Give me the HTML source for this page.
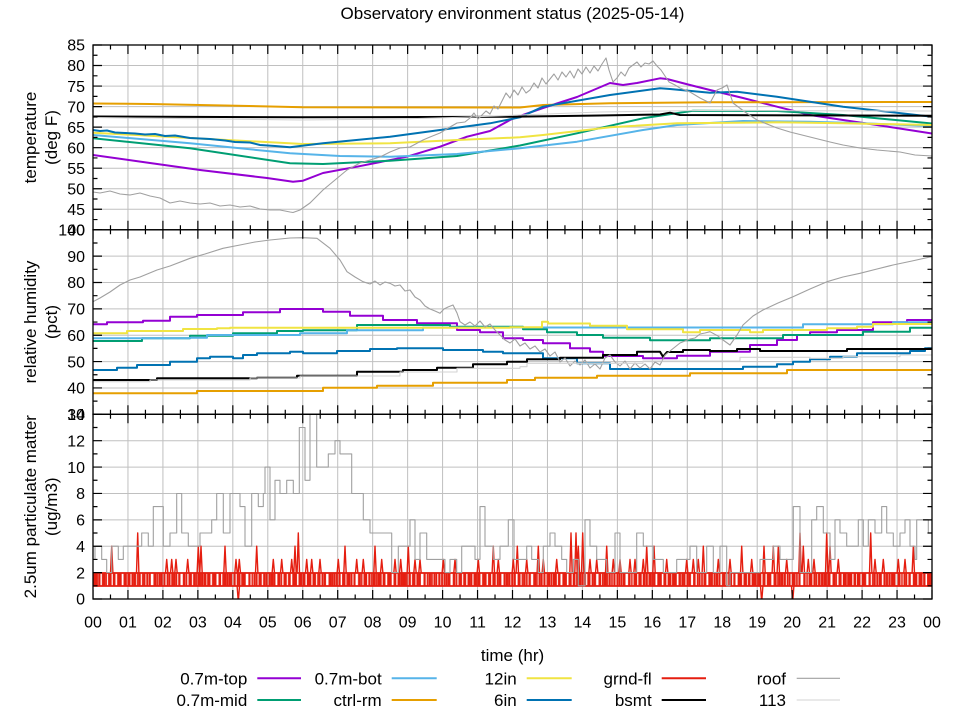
<!DOCTYPE html>
<html><head><meta charset="utf-8"><style>
html,body{margin:0;padding:0;background:#fff;}
svg{display:block;}
text{font-family:"Liberation Sans",sans-serif;fill:#000;}
</style></head><body>
<svg width="960" height="720" viewBox="0 0 960 720" xmlns="http://www.w3.org/2000/svg">
<defs>
<clipPath id="c1"><rect x="93" y="45" width="839" height="184.8"/></clipPath>
<clipPath id="c2"><rect x="93" y="229.8" width="839" height="184.5"/></clipPath>
<clipPath id="c3"><rect x="93" y="414.3" width="839" height="184.7"/></clipPath>
<pattern id="pA" width="5" height="20" patternUnits="userSpaceOnUse" x="93" y="572"><rect x="0.5" y="0" width="2" height="20" fill="#e51e10"/></pattern>
<pattern id="pB" width="7.3" height="20" patternUnits="userSpaceOnUse" x="93" y="572"><rect x="2.2" y="0" width="1.8" height="20" fill="#e51e10"/><rect x="5.2" y="0" width="1.5" height="20" fill="#e51e10"/></pattern>
<pattern id="pC" width="11.7" height="20" patternUnits="userSpaceOnUse" x="93" y="572"><rect x="3.4" y="0" width="1.6" height="20" fill="#e51e10"/><rect x="8.9" y="0" width="1.6" height="20" fill="#e51e10"/></pattern>
</defs>
<rect width="960" height="720" fill="#fff"/>

<text x="512.5" y="19" font-size="17" text-anchor="middle">Observatory environment status (2025-05-14)</text>

<g stroke="#c0c0c0" stroke-width="1" fill="none">
<path d="M127.96,45V599M162.92,45V599M197.88,45V599M232.83,45V599M267.79,45V599M302.75,45V599M337.71,45V599M372.67,45V599M407.63,45V599M442.58,45V599M477.54,45V599M512.5,45V599M547.46,45V599M582.42,45V599M617.38,45V599M652.33,45V599M687.29,45V599M722.25,45V599M757.21,45V599M792.17,45V599M827.13,45V599M862.08,45V599M897.04,45V599"/>
<path d="M93,209.27H932M93,188.73H932M93,168.2H932M93,147.67H932M93,127.13H932M93,106.6H932M93,86.07H932M93,65.53H932"/>
<path d="M93,256.16H932M93,282.51H932M93,308.87H932M93,335.23H932M93,361.59H932M93,387.94H932"/>
<path d="M93,572.61H932M93,546.23H932M93,519.84H932M93,493.46H932M93,467.07H932M93,440.69H932"/>
</g>

<g clip-path="url(#c1)" fill="none" stroke-linejoin="round">
<polyline stroke="#9400d3" stroke-width="2" points="93,155 150,163 200,170 267,178 293,181.7 303,180.7 323,173 357,166.7 407,156.7 440,146.7 467,136.7 490,131 510,120 520,116 543,108 577,97 610,83 623,85 637,83 660,78.3 667,79 690,85 710,90 743,98 777,106.7 810,115 843,120 877,125 932,133.5"/>
<polyline stroke="#009e73" stroke-width="2" points="93,138.3 190,148.3 290,163.3 323,164 390,160.7 457,156 520,145.5 577,133.3 643,118.3 693,110.7 777,111 843,115 932,123.5"/>
<polyline stroke="#56b4e9" stroke-width="2" points="93,135 190,143.3 290,153.3 340,156 390,156.7 457,154 520,148.3 577,141.7 643,130 677,125 743,121 810,121.7 863,123.3 932,126"/>
<polyline stroke="#e69f00" stroke-width="2" points="93,103.5 150,104 237,105.7 303,107.3 520,107.5 543,105 610,103.3 710,102.3 932,102"/>
<polyline stroke="#f0e442" stroke-width="2" points="93,132.7 190,138 303,144 390,143.3 457,140 520,137.3 543,135 610,127.3 677,123.3 777,122.3 843,123.3 932,125"/>
<polyline stroke="#0072b2" stroke-width="2" points="93,130 100,131 107,130.5 115,132.5 125,133 135,133.5 145,134.5 155,134 165,136 175,135.5 190,138 200,138.5 210,139 225,140.5 235,142 250,142.5 260,145 275,146 290,147.3 300,146 323,143.3 390,136.7 440,130 490,123.3 520,117.3 543,106.7 610,95 660,88.3 670,89 710,92.7 737,91.7 777,96.7 843,106.7 932,116.7"/>
<polyline stroke="#000" stroke-width="2" points="93,116.5 300,117.3 510,116.7 600,115.5 660,114.5 670,112.7 680,115 932,115.8"/>
<polyline stroke="#a0a0a0" stroke-width="1.1" points="93,192 100,193 110,191 120,194 130,195 140,193 150,196 160,198 170,203 180,201 190,203 200,204 210,203 220,206 230,205 240,207 250,206 260,209 270,210 280,210 290,212 293,212.5 300,210 310,203 323,190 335,180 347,170 360,163 370,160 380,157 390,152 400,148 410,147 423,140 430,137 440,133 450,127 457,123 465,122 470,118 474,113 478,119 482,115 486,111 490,114 494,106 498,109 502,101 506,93 510,98 514,90 518,95 522,87 526,93 530,90 534,83 538,88 542,78 546,84 550,79 554,74 558,80 562,72 566,77 570,71 574,78 578,69 582,74 586,67 590,73 594,66 598,71 602,64 606,58 609,70 613,82 617,78 621,72 625,76 629,68 633,65 637,62 641,67 645,63 649,64 653,61 657,66 661,70 665,76 669,82 675,85 680,88 690,92 700,98 710,103 717,90 722,88 727,85 733,103 745,112 757,120 777,128 790,132 810,137 830,142 843,145 860,148 877,150 900,152 915,155 932,156"/>
<polyline stroke="#d3d3d3" stroke-width="1.1" points="93,117.5 200,118.8 300,120 400,119 470,117 520,115 600,112 700,110.5 932,111"/>
</g>

<g clip-path="url(#c2)" fill="none" stroke-linejoin="round">
<path stroke="#9400d3" stroke-width="2" d="M93,324.3 H107 V322.3 H143 V320.7 H170 V316.7 H197 V315 H243 V312.3 H280 V309 H323 V311.7 H350 V315.7 H383 V320 H417 V323.3 H457 V330 H480 V332.3 H503 V338.3 H523 V340 H543 V343.3 H570 V348.3 H590 V351.7 H603 V356 H643 V358.3 H677 V355.7 H710 V351.7 H750 V345 H777 V340 H797 V335 H810 V332.3 H837 V330 H873 V322.3 H907 V320 H932"/>
<path stroke="#009e73" stroke-width="2" d="M93,341 H142 V338.3 H190 V335.7 H233 V333.3 H277 V331 H303 V330.3 H357 V325 H450 V326.7 H523 V329.3 H547 V332.3 H577 V335 H603 V337.7 H650 V340.3 H710 V338.3 H783 V335 H863 V331.7 H910 V327.7 H932"/>
<path stroke="#56b4e9" stroke-width="2" d="M93,338.3 H190 V337.7 H207 V335 H300 V333.3 H347 V330.3 H423 V327.5 H803 V324.3 H893 V322.3 H932"/>
<path stroke="#e69f00" stroke-width="2" d="M93,393.3 H197 V391 H323 V387.7 H377 V385.7 H433 V382.7 H507 V380 H535 V377.7 H597 V375.7 H690 V373.3 H787 V370 H932"/>
<path stroke="#f0e442" stroke-width="2" d="M93,333.3 H127 V331 H183 V329 H217 V328.3 H230 V327.7 H510 V327.3 H542 V321.7 H548 V323.5 H590 V325.7 H627 V329.3 H683 V332.3 H700 V330 H750 V332.3 H763 V330 H827 V328.3 H857 V326.7 H873 V324 H932"/>
<path stroke="#0072b2" stroke-width="2" d="M93,370 H117 V367.7 H137 V365 H170 V361.7 H197 V358.3 H210 V356.7 H233 V358.3 H243 V355 H257 V353.3 H290 V351.7 H303 V353.3 H337 V351 H370 V349 H397 V348.3 H443 V350 H483 V351.7 H503 V353.3 H543 V358.3 H577 V363.3 H610 V369 H743 V366.7 H777 V364.3 H793 V361.7 H810 V359.3 H830 V356.7 H857 V353.3 H910 V351 H925 V348.3 H932"/>
<path stroke="#000" stroke-width="2" d="M93,380 H157 V378.3 H257 V377.7 H297 V375.7 H357 V371.7 H403 V370 H437 V367.7 H473 V364.3 H507 V361.7 H527 V359.3 H560 V357.7 H603 V355 H637 V351.7 H660 L663,356.7 L667,352 H683 V350 H710 V351 H737 V349 H760 V351 H847 V349 H932"/>
<polyline stroke="#a0a0a0" stroke-width="1.1" points="93,301.7 100,298 110,292 120,285 130,280 140,277 157,270 170,266 190,258.3 205,254 223,248.3 240,245 255,242 270,240 290,238 303,237.7 317,238.3 330,248.3 340,260 347,271.7 355,277 363,281.7 370,284 375,281 380,285 385,282 390,283.3 395,286 400,285 405,291 410,290 415,297 420,300 425,306 430,309 435,311 440,313.3 444,309 448,307 453,305 457,313 460,321.7 465,325 470,322 475,326 480,321 485,327 490,324 495,330 500,335 505,340 510,343 515,339 520,346 525,343 530,349 535,346 540,352 545,349 550,356 555,352 560,362 565,358 570,366 575,361 580,365 585,360 590,368 595,364 600,369 605,358 610,355 615,362 620,366 625,361 630,369 635,363 640,368 645,364 650,369 655,362 660,365 665,355 670,351 675,347 680,343 685,341 690,339 695,338 700,334 705,333 710,331.7 718,336 723,340 730,345 737,335 743,325 753,316 763,310 778,303 793,296.7 810,289 827,281.7 843,277 860,273.3 877,269 893,265 912,261 932,256.5"/>
<path stroke="#d3d3d3" stroke-width="1.1" d="M93,381.7 H150 V380 H250 V378 H300 V376 H400 V372 H457 V368.3 H520 V366.7 H527 V363.3 H643 V361 H740 V357.3 H810 V358.3 H843 V356.7 H900 V355 H932 V354"/>
</g>

<g clip-path="url(#c3)" fill="none" stroke-linejoin="round">
<rect x="93" y="573" width="839" height="13" fill="url(#pA)" stroke="none"/>
<rect x="93" y="573" width="839" height="13" fill="url(#pB)" stroke="none"/>
<rect x="93" y="573" width="839" height="13" fill="url(#pC)" stroke="none"/>
<path stroke="#e51e10" stroke-width="1.8" d="M93,573H932M93,586H932"/>
<path stroke="#e51e10" stroke-width="1.4" d="M110.5,573L111.7,546.2L112.9,573M136.5,573L137.7,533L138.9,573M165.5,573L166.7,559.4L167.9,573M170.5,573L171.7,559.4L172.9,573M174.8,573L176,559.4L177.2,573M186.5,573L187.7,559.4L188.9,573M197.1,573L198.3,546.2L199.5,573M199.8,573L201,546.2L202.2,573M223.8,573L225,546.2L226.2,573M234.8,573L236,559.4L237.2,573M238.1,573L239.3,559.4L240.5,573M255.5,573L256.7,546.2L257.9,573M272.1,573L273.3,559.4L274.5,573M280.5,573L281.7,559.4L282.9,573M290.5,573L291.7,559.4L292.9,573M293.8,573L295,546.2L296.2,573M297.1,573L298.3,533L299.5,573M305.5,573L306.7,559.4L307.9,573M310.5,573L311.7,559.4L312.9,573M318.8,573L320,559.4L321.2,573M337.1,573L338.3,559.4L339.5,573M343.8,573L345,546.2L346.2,573M355.5,573L356.7,559.4L357.9,573M362.1,573L363.3,559.4L364.5,573M373.8,573L375,546.2L376.2,573M380.5,573L381.7,559.4L382.9,573M393.8,573L395,559.4L396.2,573M399.5,573L400.7,559.4L401.9,573M407.1,573L408.3,546.2L409.5,573M413.8,573L415,559.4L416.2,573M418.8,573L420,559.4L421.2,573M442.1,573L443.3,559.4L444.5,573M453.8,573L455,559.4L456.2,573M477.1,573L478.3,559.4L479.5,573M492.1,573L493.3,546.2L494.5,573M497.1,573L498.3,559.4L499.5,573M512.1,573L513.3,559.4L514.5,573M516.1,573L517.3,546.2L518.5,573M525.5,573L526.7,559.4L527.9,573M537.1,573L538.3,546.2L539.5,573M542.1,573L543.3,559.4L544.5,573M555.5,573L556.7,559.4L557.9,573M569.8,573L571,533L572.2,573M574.8,573L576,533L577.2,573M577.1,573L578.3,546.2L579.5,573M581.5,573L582.7,533L583.9,573M588.8,573L590,559.4L591.2,573M595.5,573L596.7,559.4L597.9,573M605.5,573L606.7,546.2L607.9,573M612.1,573L613.3,559.4L614.5,573M618.8,573L620,559.4L621.2,573M628.8,573L630,559.4L631.2,573M633.8,573L635,559.4L636.2,573M642.1,573L643.3,559.4L644.5,573M645.5,573L646.7,546.2L647.9,573M652.8,573L654,546.2L655.2,573M665.5,573L666.7,559.4L667.9,573M685.5,573L686.7,559.4L687.9,573M692.1,573L693.3,559.4L694.5,573M697.1,573L698.3,559.4L699.5,573M702.1,573L703.3,546.2L704.5,573M717.1,573L718.3,559.4L719.5,573M728.8,573L730,559.4L731.2,573M740.5,573L741.7,546.2L742.9,573M750.5,573L751.7,559.4L752.9,573M762.8,573L764,546.2L765.2,573M772.1,573L773.3,546.2L774.5,573M777.1,573L778.3,546.2L779.5,573M785.5,573L786.7,559.4L787.9,573M798.8,573L800,533L801.2,573M802.1,573L803.3,546.2L804.5,573M807.1,573L808.3,559.4L809.5,573M812.8,573L814,559.4L815.2,573M825.5,573L826.7,533L827.9,573M828.8,573L830,546.2L831.2,573M837.1,573L838.3,559.4L839.5,573M869.5,573L870.7,533L871.9,573M873.8,573L875,559.4L876.2,573M882.1,573L883.3,559.4L884.5,573M897.1,573L898.3,559.4L899.5,573M903.8,573L905,559.4L906.2,573M912.1,573L913.3,546.2L914.5,573"/>
<path stroke="#e51e10" stroke-width="1.4" d="M237.1,586L238.3,602L239.5,586M760.5,586L761.7,602L762.9,586M791.5,586L792.7,602L793.9,586"/>
<path stroke="#a0a0a0" stroke-width="1.1" d="M93,559.4 H95 V546.2 H101.7 V559.4 H106.7 V572.6 H111.7 V546.2 H118.3 V559.4 H123.3 V546.2 H141.7 V533 H148.3 V546.2 H153.3 V506.6 H163.3 V546.2 H170 V533 H176.7 V493.5 H181.7 V533 H188.3 V546.2 H200 V533 H211.7 V519.8 H216.7 V493.5 H223.3 V533 H230 V493.5 H240 V506.6 H245 V546.2 H251.7 V493.5 H258.3 V506.6 H263.3 V493.5 H265 V467.1 H270 V519.8 H275 V480.3 H280 V493.5 H286.7 V480.3 H293.3 V493.5 H299.3 V427.5 H305 V480.3 H310 V414.3 H316.7 V467.1 H328.3 V453.9 H335 V440.7 H340 V453.9 H351.7 V493.5 H363.3 V519.8 H370 V533 H391.7 V572.6 H398.3 V546.2 H410 V519.8 H415 V559.4 H420 V533 H426.7 V559.4 H445 V572.6 H450 V559.4 H456.7 V572.6 H461.7 V546.2 H475 V559.4 H480 V506.6 H485 V546.2 H493.3 V559.4 H500 V546.2 H508.3 V519.8 H514 V559.4 H526.7 V546.2 H531.7 V559.4 H538.3 V572.6 H543.3 V546.2 H550 V533 H555 V546.2 H561.7 V559.4 H566.7 V572.6 H573.3 V559.4 H578.3 V585.8 H585 V519.8 H590 V546.2 H596.7 V559.4 H606.7 V572.6 H615 V533 H620 V572.6 H636.7 V533 H643.3 V546.2 H653.3 V559.4 H663.3 V572.6 H676.7 V559.4 H690 V546.2 H696.7 V572.6 H706.7 V546.2 H713.3 V572.6 H720 V546.2 H726.7 V585.8 H730 V572.6 H760 V559.4 H773.3 V546.2 H780 V559.4 H793.3 V506.6 H800 V572.6 H811.7 V519.8 H816.7 V506.6 H823.3 V533 H830 V559.4 H835 V519.8 H840 V533 H846.7 V546.2 H858.3 V519.8 H863.3 V546.2 H868.3 V519.8 H875 V533 H881.7 V506.6 H886.7 V533 H893.3 V546.2 H900 V533 H905 V519.8 H910 V546.2 H915 V559.4 H916.7 V519.8 H928.3 V533 H932"/>
</g>

<g fill="none" stroke="#000" stroke-width="1.3">
<rect x="93" y="45" width="839" height="184.8"/>
<rect x="93" y="229.8" width="839" height="184.5"/>
<rect x="93" y="414.3" width="839" height="184.7"/>
</g>

<g stroke="#000" fill="none">
<g stroke-width="9" stroke-dasharray="1.2 33.7583" stroke-dashoffset="0.6">
<path d="M93,49.5H933M93,225.3H933M93,234.3H933M93,409.8H933M93,418.8H933M93,594.5H933"/>
</g>
<g stroke-width="4.5" stroke-dasharray="1.2 33.7583">
<path d="M109.88,47.25H933M109.88,227.55H933M109.88,232.05H933M109.88,412.05H933M109.88,416.55H933M109.88,596.75H933"/>
</g>
<g stroke-width="9" stroke-dasharray="1.2 19.335">
<path d="M97.5,44.4V231M927.5,44.4V231"/>
</g>
<g stroke-width="4.5" stroke-dasharray="1.2 19.335">
<path d="M95.25,54.67V230M929.75,54.67V230"/>
</g>
<g stroke-width="9" stroke-dasharray="1.2 25.157">
<path d="M97.5,229.2V415M927.5,229.2V415"/>
</g>
<g stroke-width="4.5" stroke-dasharray="1.2 25.157">
<path d="M95.25,242.38V414M929.75,242.38V414"/>
</g>
<g stroke-width="9" stroke-dasharray="1.2 25.186">
<path d="M97.5,413.7V600M927.5,413.7V600"/>
</g>
<g stroke-width="4.5" stroke-dasharray="1.2 25.186">
<path d="M95.25,426.89V599M929.75,426.89V599"/>
</g>
</g>

<g font-size="16" text-anchor="end">
<text x="85" y="50.7">85</text><text x="85" y="71.2">80</text><text x="85" y="91.8">75</text><text x="85" y="112.3">70</text><text x="85" y="132.8">65</text><text x="85" y="153.4">60</text><text x="85" y="173.9">55</text><text x="85" y="194.4">50</text><text x="85" y="215">45</text><text x="85" y="235.5">40</text>
<text x="85" y="235.5">100</text><text x="85" y="261.9">90</text><text x="85" y="288.2">80</text><text x="85" y="314.6">70</text><text x="85" y="340.9">60</text><text x="85" y="367.3">50</text><text x="85" y="393.6">40</text><text x="85" y="420">30</text>
<text x="85" y="420">14</text><text x="85" y="446.4">12</text><text x="85" y="472.8">10</text><text x="85" y="499.2">8</text><text x="85" y="525.5">6</text><text x="85" y="551.9">4</text><text x="85" y="578.3">2</text><text x="85" y="604.7">0</text>
</g>

<g font-size="16" text-anchor="middle">
<text x="93" y="627.5">00</text><text x="127.96" y="627.5">01</text><text x="162.92" y="627.5">02</text><text x="197.88" y="627.5">03</text><text x="232.83" y="627.5">04</text><text x="267.79" y="627.5">05</text><text x="302.75" y="627.5">06</text><text x="337.71" y="627.5">07</text><text x="372.67" y="627.5">08</text><text x="407.63" y="627.5">09</text><text x="442.58" y="627.5">10</text><text x="477.54" y="627.5">11</text><text x="512.5" y="627.5">12</text><text x="547.46" y="627.5">13</text><text x="582.42" y="627.5">14</text><text x="617.38" y="627.5">15</text><text x="652.33" y="627.5">16</text><text x="687.29" y="627.5">17</text><text x="722.25" y="627.5">18</text><text x="757.21" y="627.5">19</text><text x="792.17" y="627.5">20</text><text x="827.13" y="627.5">21</text><text x="862.08" y="627.5">22</text><text x="897.04" y="627.5">23</text><text x="932" y="627.5">00</text>
</g>

<text x="512.5" y="661" font-size="17" text-anchor="middle">time (hr)</text>

<g font-size="17" text-anchor="middle">
<text transform="translate(36,137.5) rotate(-90)">temperature</text>
<text transform="translate(57,137.5) rotate(-90)">(deg F)</text>
<text transform="translate(36,322) rotate(-90)">relative humidity</text>
<text transform="translate(57,322) rotate(-90)">(pct)</text>
<text transform="translate(36,506.7) rotate(-90)">2.5um particulate matter</text>
<text transform="translate(57,506.7) rotate(-90)">(ug/m3)</text>
</g>

<g font-size="17" text-anchor="end">
<text x="247.3" y="684.3">0.7m-top</text>
<text x="247.3" y="706">0.7m-mid</text>
<text x="381.7" y="684.3">0.7m-bot</text>
<text x="381.7" y="706">ctrl-rm</text>
<text x="516.7" y="684.3">12in</text>
<text x="516.7" y="706">6in</text>
<text x="651.7" y="684.3">grnd-fl</text>
<text x="651.7" y="706">bsmt</text>
<text x="786" y="684.3">roof</text>
<text x="786" y="706">113</text>
</g>
<g fill="none">
<path stroke="#9400d3" stroke-width="2" d="M257.3,678.3H301"/>
<path stroke="#009e73" stroke-width="2" d="M257.3,700H301"/>
<path stroke="#56b4e9" stroke-width="2" d="M391.7,678.3H436.7"/>
<path stroke="#e69f00" stroke-width="2" d="M391.7,700H436.7"/>
<path stroke="#f0e442" stroke-width="2" d="M526.7,678.3H571.7"/>
<path stroke="#0072b2" stroke-width="2" d="M526.7,700H571.7"/>
<path stroke="#e51e10" stroke-width="2" d="M661.7,678.3H706"/>
<path stroke="#000" stroke-width="2" d="M661.7,700H706"/>
<path stroke="#a0a0a0" stroke-width="1.1" d="M796.7,678.3H840"/>
<path stroke="#d3d3d3" stroke-width="1.1" d="M796.7,700H840"/>
</g>
</svg>
</body></html>
